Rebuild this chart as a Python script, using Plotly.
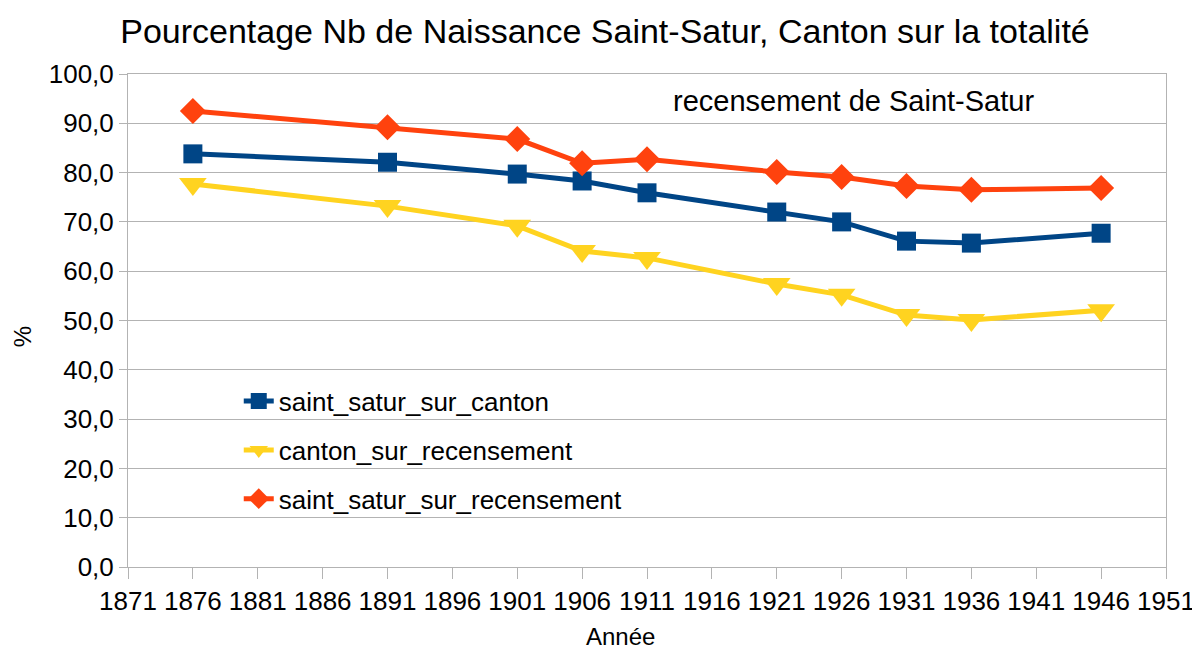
import plotly.graph_objects as go

years = [1876, 1891, 1901, 1906, 1911, 1921, 1926, 1931, 1936, 1946]
saint_satur_sur_canton = [83.8, 82.1, 79.7, 78.3, 75.9, 72.0, 70.0, 66.1, 65.7, 67.7]
canton_sur_recensement = [77.7, 73.2, 69.2, 64.1, 62.7, 57.4, 55.2, 51.1, 50.1, 52.1]
saint_satur_sur_recensement = [92.5, 89.2, 86.8, 81.9, 82.7, 80.1, 79.1, 77.3, 76.5, 76.9]

FONT = "Liberation Sans"
GRID = "#b3b3b3"

fig = go.Figure()
fig.add_trace(go.Scatter(x=years, y=saint_satur_sur_canton, name="saint_satur_sur_canton",
                         mode="lines+markers", legendgroup="a",
                         line=dict(color="#004586", width=5),
                         marker=dict(symbol="square", size=19, color="#004586")))
fig.add_trace(go.Scatter(x=years, y=canton_sur_recensement, name="canton_sur_recensement",
                         mode="lines+markers", legendgroup="b",
                         line=dict(color="#ffd320", width=5),
                         marker=dict(symbol="triangle-down", size=24, color="#ffd320")))
fig.add_trace(go.Scatter(x=years, y=saint_satur_sur_recensement, name="saint_satur_sur_recensement",
                         mode="lines+markers", legendgroup="c",
                         line=dict(color="#ff420e", width=5),
                         marker=dict(symbol="diamond", size=20, color="#ff420e")))

fig.add_annotation(text="recensement de Saint-Satur", x=1926.9, y=94.5, xref="x", yref="y",
                   showarrow=False, font=dict(family=FONT, size=29, color="black"))
fig.add_annotation(text="Année", x=0.474, y=-0.14, xref="paper", yref="paper",
                   xanchor="center", yanchor="middle", showarrow=False,
                   font=dict(family=FONT, size=24, color="black"))
fig.add_annotation(text="%", x=-0.102, y=0.4665, xref="paper", yref="paper",
                   xanchor="center", yanchor="middle", showarrow=False, textangle=-90,
                   font=dict(family=FONT, size=24, color="black"))

fig.update_layout(
    width=1200, height=648,
    paper_bgcolor="white", plot_bgcolor="white",
    separators=", ",
    font=dict(family=FONT, size=26, color="black"),
    title=dict(text="Pourcentage Nb de Naissance Saint-Satur, Canton sur la totalité",
               x=0.4975, xanchor="center", y=0.965, yanchor="middle",
               font=dict(family=FONT, size=34, color="black")),
    margin=dict(l=120, r=42, t=66, b=89),
    showlegend=True,
    legend=dict(x=0.1067, xanchor="left", y=0.384, yanchor="top",
                bgcolor="rgba(0,0,0,0)", font=dict(family=FONT, size=26),
                tracegroupgap=12, itemwidth=30),
    xaxis=dict(range=[1871, 1951], tick0=1871, dtick=5, showgrid=False, automargin=False,
               showline=True, linecolor=GRID, linewidth=1, mirror=True,
               ticks="outside", ticklen=11, tickcolor=GRID,
               zeroline=False),
    yaxis=dict(range=[0, 100], tick0=0, dtick=10, tickformat=".1f", automargin=False,
               showgrid=True, gridcolor=GRID, gridwidth=1,
               showline=True, linecolor=GRID, linewidth=1, mirror=True,
               ticks="outside", ticklen=8, tickcolor=GRID,
               zeroline=False),
)

fig.write_html("out.html")
